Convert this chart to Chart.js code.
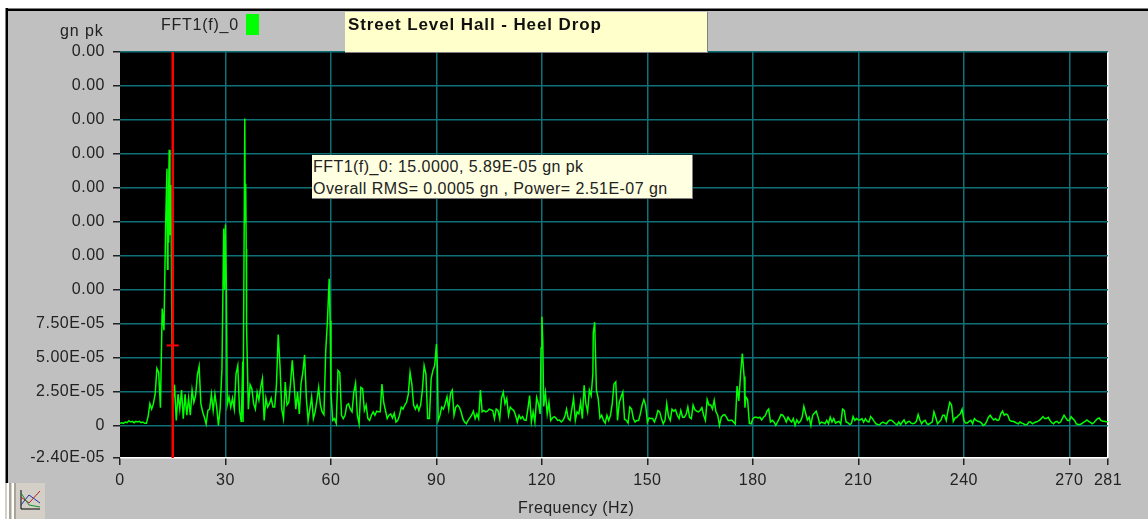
<!DOCTYPE html>
<html>
<head>
<meta charset="utf-8">
<title>Street Level Hall - Heel Drop</title>
<script src="https://cdn.jsdelivr.net/npm/chart.js@4"></script>
<style>
  html, body { margin: 0; padding: 0; background: #fff; overflow: hidden; }
  body { width: 1148px; height: 519px; position: relative; font-family: "Liberation Sans", Arial, sans-serif; color: #222; }
  #panel { position: absolute; left: 8px; top: 11px; width: 1140px; height: 508px; background: #c0c0c0; }
  #frameTop { position: absolute; left: 5px; top: 8px; width: 1143px; height: 3px; background: #000; border-top: 1px solid #808080; box-sizing: border-box; }
  #frameLeft { position: absolute; left: 5px; top: 8px; width: 3px; height: 475px; background: #000; border-left: 1px solid #808080; box-sizing: border-box; }
  #chart { position: absolute; left: 0; top: 0; }
  .label { position: absolute; white-space: nowrap; font-size: 16px; line-height: 18px; letter-spacing: .75px; }
  #legendBox { position: absolute; left: 246px; top: 14px; width: 13px; height: 21px; background: #00ff00; }
  #titleBox { position: absolute; left: 345px; top: 12px; width: 363px; height: 41px; box-sizing: border-box; background: #ffffcc; border-right: 1px solid #808080; border-bottom: 1px solid #808080; padding: 3px 0 0 3px; font-weight: bold; font-size: 17px; line-height: 20px; letter-spacing: .9px; color: #111; }
  #readout { position: absolute; left: 312px; top: 155px; width: 381px; height: 44px; box-sizing: border-box; background: #ffffe1; border-right: 1px solid #808080; border-bottom: 1px solid #808080; padding: 1px 0 0 1px; font-size: 16px; line-height: 21.5px; letter-spacing: .45px; white-space: nowrap; color: #222; }
  #iconBox { position: absolute; left: 5px; top: 483px; width: 40px; height: 36px; background: #d4d0c8; }
</style>
</head>
<body>
<div id="panel"></div>
<div id="frameTop"></div>
<div id="frameLeft"></div>
<canvas id="chart" width="1148" height="519"></canvas>
<div class="label" style="left:60px;top:22px;letter-spacing:.9px">gn pk</div>
<div class="label" style="left:161px;top:16px">FFT1(f)_0</div>
<div id="legendBox"></div>
<div id="titleBox">Street Level Hall - Heel Drop</div>
<div id="readout">FFT1(f)_0: 15.0000, 5.89E-05 gn pk<br>Overall RMS= 0.0005 gn , Power= 2.51E-07 gn</div>
<div class="label" style="left:518px;top:499px;letter-spacing:.43px">Frequency (Hz)</div>
<div id="iconBox">
  <svg width="40" height="36">
    <rect x="2" y="0" width="2" height="36" fill="#fff"/>
    <rect x="4" y="0" width="2" height="36" fill="#a8a498"/>
    <rect x="7" y="0" width="2" height="36" fill="#fff"/>
    <rect x="9" y="0" width="2" height="36" fill="#a8a498"/>
    <path d="M16 7V26H35" fill="none" stroke="#000"/>
    <path d="M16 22L24 12L35 20" fill="none" stroke="#2030b0"/>
    <path d="M16 14L24 20L35 8" fill="none" stroke="#b02020"/>
    <path d="M16 10L24 22L35 24" fill="none" stroke="#109030"/>
  </svg>
</div>

<script>
// Spectrum, one value per 0.5 Hz bin, in units of 1E-05 gn
const binHz = 0.5;
const ampE5 = [
  .15,.2,.15,.25,.2,.35,.25,.3,.2,.3,.25,.3,.2,.25,.15,.15,
  .65,1.6,1.2,1.6,2.3,4.2,3.9,1.3,8.6,7,15,11.5,20.3,17.7,1.5,
  3,.37,2.3,1.2,2.6,.5,2.3,.75,2,.75,2.6,1.7,2.2,3.7,4.35,1.6,1,.6,.1,
  1.1,1.2,2.3,1.1,2.3,1.35,0,1.3,4.2,14.5,14.8,1.5,2.1,1.35,2,1.2,3.8,4.4,1.1,.25,
  .25,22.6,7.2,1.2,3,2.7,1.6,1.2,2.45,1.85,2.8,3.45,.37,2,1.35,1.6,2,1.35,1.35,3,
  6.7,4.4,1.2,.5,3.2,1.5,1.7,3.1,4.8,3.1,1.2,2.45,.85,3.1,3.9,5.2,2,.37,1.2,2.1,
  .5,1,1.85,2.8,1.5,1,.8,5.4,7.7,10.8,2.4,.37,.5,.15,4.05,3.9,.75,.5,.75,1.5,
  1.6,1.2,1,2.45,3.1,.75,.12,2.8,2.7,1.1,1.5,.5,.37,.75,1,.75,1.05,1,
  1,3.05,1.7,1.1,.5,.75,.85,.55,.9,.25,.37,.75,1.35,1.2,1.5,1.7,2.3,3.9,3.05,1.5,
  1.2,1.5,1.1,1.5,2.6,4.4,3.8,.5,.5,3.45,4.05,4.4,6,.37,.75,1.35,1.2,1.6,2.1,1.2,
  2.35,2.6,.75,1.35,1.5,1.35,1,.5,.25,.12,.37,.55,.75,1.05,.5,.85,.5,2.6,1,1.1,
  1,1.05,1.2,1.15,1.1,.5,1.2,1.1,.5,2,2.45,1.6,2,.75,1.35,1.2,1.1,.75,.25,.75,
  .5,.65,.4,.37,1.2,2.2,.25,1,.25,2.05,1.6,.85,8,1.4,2.4,.85,1.7,
  .37,.55,.65,.55,.37,.4,.25,.37,.65,1.2,.5,.37,1.2,2,.37,1,.85,1.7,.5,2.95,
  1.6,1,2.6,2.2,3.8,7.6,2.6,2,.55,.75,.37,.17,.75,.37,.75,1.6,3.05,3.2,.37,1.7,
  2.1,2.45,.45,.37,.17,1.35,1.2,.5,.25,.37,.37,.85,1.5,1.9,1.5,.25,.55,.5,.5,.25,
  .6,1.1,1,.5,.12,.37,1.6,.65,.37,1.2,1.05,1.15,.75,.5,1.1,.6,.6,.8,1.35,.6,
  .5,1.5,1.15,1.05,1,1.1,1.3,.75,.37,1.9,1.5,1.5,1.2,1.85,1,.75,0,.6,.75,.8,
  .6,.37,.37,.4,.25,.1,2.9,1.8,3.8,5.3,3.6,2.1,1.9,.15,
  .12,.5,.6,.6,.55,.6,.4,.6,.7,1.05,1.2,.25,.37,.25,0,.25,.5,.8,.75,.55,
  .25,.6,.4,.25,.5,0,.4,.17,.3,.6,1.4,.9,.4,.6,0,.75,.9,1.05,.65,.12,
  .25,.2,.12,.37,.12,.6,.25,.5,.17,.25,.3,.1,1.2,1.1,.25,.2,.07,.12,.65,.37,
  .5,.4,.4,.5,.25,.5,.3,.25,.65,.5,.3,.12,.07,.05,.17,.25,.17,.12,.3,.4,
  .37,.25,.12,.03,.25,.05,.25,.4,.12,.25,.3,.17,.12,.17,.3,.8,.4,.12,.3,.37,
  .12,.07,.17,.25,1,.6,.12,.25,.4,.75,.75,.37,1.1,1.7,1.5,.3,.55,.6,.75,.85,
  1.2,.37,.17,.17,.3,.37,.12,.5,.37,.3,.27,.17,0,.07,.3,.6,.75,.55,.4,.5,
  .37,.4,.85,1.05,.75,.85,.75,.4,.3,.3,.25,.17,.12,.25,.17,.12,.03,.07,.25,.25,
  .12,.2,.25,.3,.37,.5,.65,.5,.5,.6,.37,.2,.12,.25,.3,.17,.25,.5,.75,.55,
  .37,.37,.65,.5,.37,.12,.07,.07,.12,.22,.3,.4,.3,.22,.12,.2,.37,.5,.55,.37,
  .3,.3,.27,.27
];

// Extra samples where the trace zigzags inside a single bin
const peakHz = [13.36, 13.65, 13.75, 13.85, 14.2, 14.7, 29.75, 30.25, 34.9, 35.6, 35.75, 35.9, 59.75, 90.25, 119.75, 120.25, 134.6, 177.75];
const peakE5 = [18.9, 15, 13.5, 17.5, 14, 8.7, 10, 10.2, 4.7, 15, 17.8, 13, 7.7, 4.4, 5.7, 6.1, 6.8, 1.3];

const cursorHz = 15;
const cursorAmp = 5.89e-5;

const xTicks = [0, 30, 60, 90, 120, 150, 180, 210, 240, 270, 281];
const yTicks = [-2.4e-5, 0, 2.5e-5, 5e-5, 7.5e-5, 1e-4, 1.25e-4, 1.5e-4, 1.75e-4, 2e-4, 2.25e-4, 2.5e-4, 2.75e-4];
const yTickLabels = ['-2.40E-05', '0', '2.50E-05', '5.00E-05', '7.50E-05', '0.00', '0.00', '0.00', '0.00', '0.00', '0.00', '0.00', '0.00'];

const yMin = -2.4e-5;
const yMax = 2.75e-4;
const gridColor = '#0f7078';
const tickFont = { family: '"Liberation Sans", Arial, sans-serif', size: 16 };

// Bins plus the zigzag samples, in frequency order
const spectrum = ampE5.map((v, i) => ({ x: i * binHz, y: v * 1e-5 }))
    .concat(peakHz.map((f, i) => ({ x: f, y: peakE5[i] * 1e-5 })))
    .sort((a, b) => a.x - b.x);

// Black plot background, and the wide tick lettering of the original
const plotBackground = {
    id: 'plotBackground',
    beforeDraw(chart) {
        const a = chart.chartArea;
        chart.ctx.fillStyle = '#000';
        chart.ctx.fillRect(a.left, a.top, a.right - a.left, a.bottom - a.top);
        chart.ctx.letterSpacing = '.5px';
    }
};

new Chart(document.getElementById('chart'), {
    type: 'line',
    data: {
        datasets: [
            {
                data: [{ x: cursorHz, y: yMin }, { x: cursorHz, y: yMax }],
                borderColor: '#ff0000',
                borderWidth: 2.5,
                pointRadius: 0,
                order: 1
            },
            {
                data: [{ x: cursorHz, y: cursorAmp }],
                showLine: false,
                pointStyle: 'line',
                pointRadius: 6,
                pointBorderColor: '#ff0000',
                pointBorderWidth: 2,
                order: 0
            },
            {
                data: spectrum,
                borderColor: '#00ff00',
                borderWidth: 1.5,
                pointRadius: 0,
                tension: 0,
                order: 2
            }
        ]
    },
    plugins: [plotBackground],
    options: {
        responsive: false,
        animation: false,
        events: [],
        layout: { padding: { left: 0, top: 52, right: 40, bottom: 0 } },
        plugins: { legend: { display: false }, tooltip: { enabled: false } },
        scales: {
            x: {
                type: 'linear',
                min: 0,
                max: 281,
                afterBuildTicks: axis => { axis.ticks = xTicks.map(value => ({ value })); },
                afterFit: axis => { axis.height = 61; },
                ticks: { autoSkip: false, maxRotation: 0, padding: 6, color: '#222', font: tickFont, callback: v => String(v) },
                border: { display: false },
                grid: {
                    color: c => (c.tick.value === 281 ? '#ffffff' : c.tick.value === 0 ? 'rgba(0,0,0,0)' : gridColor),
                    lineWidth: 1.5,
                    tickLength: 7,
                    tickColor: '#222'
                }
            },
            y: {
                min: yMin,
                max: yMax,
                afterBuildTicks: axis => { axis.ticks = yTicks.map(value => ({ value })); },
                afterFit: axis => { axis.width = 120; },
                ticks: { autoSkip: false, padding: 8, color: '#222', font: tickFont, callback: (v, i) => yTickLabels[i] },
                border: { display: false },
                grid: {
                    color: c => (c.tick.value === yMin ? '#ffffff' : gridColor),
                    lineWidth: 1.5,
                    tickLength: 7,
                    tickColor: '#222'
                }
            }
        }
    }
});
</script>
</body>
</html>
